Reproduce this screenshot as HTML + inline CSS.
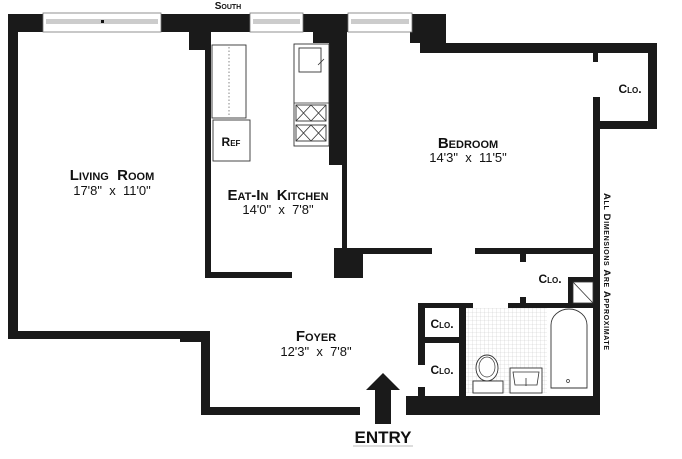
<!DOCTYPE html>
<html><head><meta charset="utf-8"><style>
html,body{margin:0;padding:0;background:#fff}
svg{display:block}
text{font-family:"Liberation Sans",sans-serif;fill:#111}
.sc{font-weight:bold;font-variant:small-caps}
</style></head><body>
<svg width="682" height="459" viewBox="0 0 682 459" xmlns="http://www.w3.org/2000/svg">
<defs>
<pattern id="tile" width="4" height="4" patternUnits="userSpaceOnUse">
<rect width="4" height="4" fill="#fff"/><path d="M0 0H4M0 0V4" stroke="#ccc" stroke-width="0.6"/>
</pattern>
</defs>
<g fill="#1a1a1a">
<rect x="8" y="14" width="438" height="18"/>
<rect x="189" y="14" width="22" height="36"/>
<rect x="313" y="14" width="34" height="29"/>
<rect x="329" y="14" width="18" height="151"/>
<rect x="342" y="150" width="5" height="128"/>
<rect x="334" y="248" width="29" height="30"/>
<rect x="410" y="14" width="36" height="29"/>
<rect x="420" y="43" width="237" height="10"/>
<rect x="648" y="43" width="9" height="86"/>
<rect x="593" y="121" width="64" height="8"/>
<rect x="593" y="53" width="5" height="9"/>
<rect x="593" y="97" width="7" height="32"/>
<rect x="593" y="121" width="7" height="294"/>
<rect x="8" y="14" width="10" height="325"/>
<rect x="8" y="331" width="172" height="8"/>
<rect x="180" y="331" width="30" height="11"/>
<rect x="201" y="331" width="9" height="84"/>
<rect x="201" y="407" width="159" height="8"/>
<rect x="406" y="396" width="194" height="19"/>
<rect x="205" y="45" width="6" height="233"/>
<rect x="205" y="272" width="87" height="6"/>
<rect x="335" y="272" width="28" height="6"/>
<rect x="347" y="248" width="85" height="6"/>
<rect x="475" y="248" width="118" height="6"/>
<rect x="520" y="254" width="6" height="8"/>
<rect x="568" y="277" width="25" height="5"/>
<rect x="568" y="277" width="5" height="31"/>
<rect x="508" y="303" width="85" height="5"/>
<rect x="520" y="297" width="6" height="6"/>
<rect x="418" y="303" width="7" height="62"/>
<rect x="418" y="387" width="7" height="12"/>
<rect x="418" y="303" width="55" height="5"/>
<rect x="418" y="337" width="42" height="6"/>
<rect x="459" y="303" width="7" height="93"/>
</g>
<g>
<rect x="43" y="13" width="118" height="19" fill="#fff" stroke="#777" stroke-width="0.8"/>
<rect x="46" y="19" width="112" height="5" fill="#ccc"/>
<rect x="101" y="20" width="3" height="3" fill="#111"/>
<rect x="250" y="13" width="53" height="19" fill="#fff" stroke="#777" stroke-width="0.8"/>
<rect x="253" y="19" width="47" height="5" fill="#ccc"/>
<rect x="348" y="13" width="64" height="19" fill="#fff" stroke="#777" stroke-width="0.8"/>
<rect x="351" y="19" width="58" height="5" fill="#ccc"/>
</g>
<g fill="#fff" stroke="#333" stroke-width="0.9">
<rect x="212" y="45" width="34" height="73"/>
<rect x="213" y="120" width="37" height="41"/>
<rect x="294" y="44" width="35" height="102"/>
<rect x="299" y="48" width="22" height="24"/>
<rect x="296" y="105" width="30" height="16"/>
<rect x="296" y="125" width="30" height="16"/>
</g>
<path d="M229 47V116" stroke="#555" stroke-width="0.7" stroke-dasharray="1.5 2"/>
<path d="M294 103H329M296 105l15 16M311 105l-15 16M311 105l15 16M326 105l-15 16M296 125l15 16M311 125l-15 16M311 125l15 16M326 125l-15 16M318 65l6-6" stroke="#333" stroke-width="0.8" fill="none"/>
<rect x="466" y="308" width="81" height="85" fill="url(#tile)"/>
<rect x="547" y="308" width="46" height="88" fill="#fff"/>
<path d="M551 388V325a18 16 0 0 1 36 0V388Z" fill="#fff" stroke="#333" stroke-width="0.9"/>
<circle cx="568" cy="381" r="1.5" fill="none" stroke="#333" stroke-width="0.7"/>
<rect x="573" y="282" width="20" height="21" fill="#fff" stroke="#333" stroke-width="0.8"/>
<path d="M573 282l20 21" stroke="#333" stroke-width="0.8"/>
<rect x="473" y="381" width="30" height="12" fill="#fff" stroke="#333" stroke-width="0.9"/>
<ellipse cx="487" cy="368" rx="11" ry="13" fill="#fff" stroke="#333" stroke-width="0.9"/>
<ellipse cx="487" cy="367" rx="8" ry="10" fill="none" stroke="#333" stroke-width="0.7"/>
<rect x="510" y="368" width="32" height="25" fill="#fff" stroke="#333" stroke-width="0.9"/>
<path d="M513 372h26l-2 13h-22z M526 378v8" fill="none" stroke="#333" stroke-width="0.8"/>
<path d="M383 373L400 390H391V424H375V390H366Z" fill="#1a1a1a"/>
<text x="228" y="9" class="sc" font-size="10" text-anchor="middle">South</text>
<text x="112" y="180" class="sc" font-size="15" text-anchor="middle">Living&#160;&#160;Room</text>
<text x="112" y="195" font-size="13" text-anchor="middle">17'8"&#160;&#160;x&#160;&#160;11'0"</text>
<text x="278" y="200" class="sc" font-size="15" text-anchor="middle">Eat-In&#160;&#160;Kitchen</text>
<text x="278" y="214" font-size="13" text-anchor="middle">14'0"&#160;&#160;x&#160;&#160;7'8"</text>
<text x="468" y="148" class="sc" font-size="15" text-anchor="middle">Bedroom</text>
<text x="468" y="162" font-size="13" text-anchor="middle">14'3"&#160;&#160;x&#160;&#160;11'5"</text>
<text x="316" y="341" class="sc" font-size="15" text-anchor="middle">Foyer</text>
<text x="316" y="356" font-size="13" text-anchor="middle">12'3"&#160;&#160;x&#160;&#160;7'8"</text>
<text x="231" y="146" class="sc" font-size="12" text-anchor="middle">Ref</text>
<text x="630" y="93" class="sc" font-size="12" text-anchor="middle">Clo.</text>
<text x="550" y="283" class="sc" font-size="12" text-anchor="middle">Clo.</text>
<text x="442" y="328" class="sc" font-size="12" text-anchor="middle">Clo.</text>
<text x="442" y="374" class="sc" font-size="12" text-anchor="middle">Clo.</text>
<text x="383" y="443" font-size="17" font-weight="bold" text-anchor="middle">ENTRY</text>
<path d="M353 446H413" stroke="#bbb" stroke-width="1"/>
<text transform="translate(604,193) rotate(90)" class="sc" font-size="9.5" textLength="157" lengthAdjust="spacing">All Dimensions Are Approximate</text>
</svg>
</body></html>
